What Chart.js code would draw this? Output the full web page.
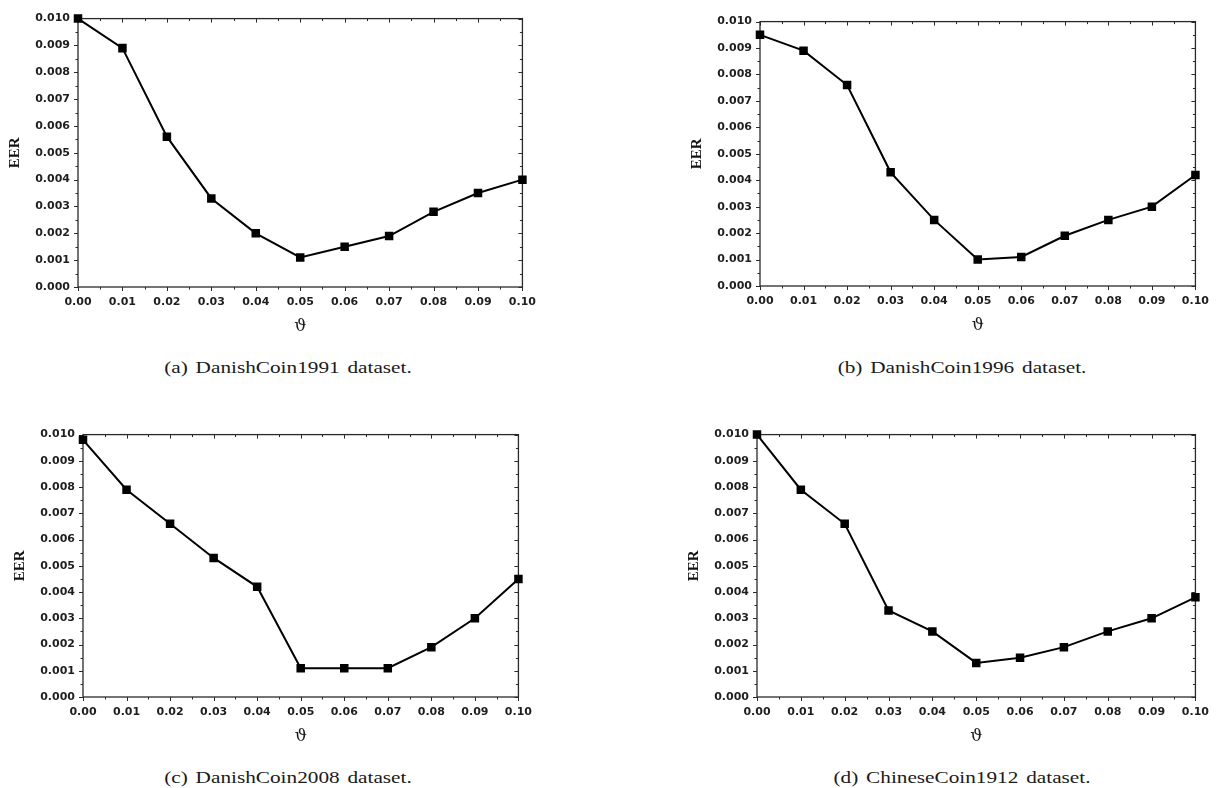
<!DOCTYPE html>
<html><head><meta charset="utf-8">
<script src="https://cdn.jsdelivr.net/npm/chart.js@4"></script>
<style>
html,body{margin:0;padding:0;background:#fff;}
body{width:1219px;height:788px;position:relative;overflow:hidden;}
canvas{position:absolute;}
.cap{position:absolute;font-family:'Liberation Serif','Times New Roman',serif;font-size:17px;color:#1a1a1a;white-space:nowrap;transform:translate(-50%,-50%) scaleX(1.25);word-spacing:2px;}
</style></head><body>
<script>
// ---- data ----
const thetaValues = [0.00,0.01,0.02,0.03,0.04,0.05,0.06,0.07,0.08,0.09,0.10];
const xTickLabels = ['0.00','0.01','0.02','0.03','0.04','0.05','0.06','0.07','0.08','0.09','0.10'];
const yTickLabels = ['0.000','0.001','0.002','0.003','0.004','0.005','0.006','0.007','0.008','0.009','0.010'];
const eerDanishCoin1991 = [0.0100,0.0089,0.0056,0.0033,0.0020,0.0011,0.0015,0.0019,0.0028,0.0035,0.0040];
const eerDanishCoin1996 = [0.0095,0.0089,0.0076,0.0043,0.0025,0.0010,0.0011,0.0019,0.0025,0.0030,0.0042];
const eerDanishCoin2008 = [0.0098,0.0079,0.0066,0.0053,0.0042,0.0011,0.0011,0.0011,0.0019,0.0030,0.0045];
const eerChineseCoin1912 = [0.0100,0.0079,0.0066,0.0033,0.0025,0.0013,0.0015,0.0019,0.0025,0.0030,0.0038];
const captions = ['(a) DanishCoin1991 dataset.','(b) DanishCoin1996 dataset.','(c) DanishCoin2008 dataset.','(d) ChineseCoin1912 dataset.'];
const yAxisTitle = 'EER';
const xAxisTitle = '\u03D1';

// ---- layout (plot-area boxes in page pixels) ----
const panels = [
  {series: eerDanishCoin1991,  L: 78,  R: 526,  T: 16,  B: 287, capX: 288, capY: 368},
  {series: eerDanishCoin1996,  L: 760, R: 1199, T: 19,  B: 286, capX: 962, capY: 368},
  {series: eerDanishCoin2008,  L: 83,  R: 522,  T: 432, B: 697, capX: 288, capY: 778},
  {series: eerChineseCoin1912, L: 757, R: 1199, T: 432, B: 697, capX: 962, capY: 778}
];

const Y_AXIS_W = 78, X_AXIS_H = 52, PAD_TOP = 12, PAD_RIGHT = 19;
const xMajor = thetaValues.slice();
const yMajor = yTickLabels.map(Number);
const mids = a => a.slice(1).map((v,i)=>(v+a[i])/2);
const xMinor = mids(xMajor), yMinor = mids(yMajor);

const frameTicks = {
  id: 'frameTicks',
  beforeDatasetsDraw(chart) {
    const {ctx, chartArea: {left, right, top, bottom}, scales: {x, y}} = chart;
    ctx.save();
    ctx.strokeStyle = '#2a2a2a';
    ctx.lineWidth = 1.3;
    ctx.strokeRect(left, top, right - left, bottom - top);
    ctx.lineWidth = 1;
    const seg = (x1,y1,x2,y2) => { ctx.beginPath(); ctx.moveTo(x1,y1); ctx.lineTo(x2,y2); ctx.stroke(); };
    const xt = (vals, len) => vals.forEach(v => { const p = Math.round(x.getPixelForValue(v)) + 0.5; seg(p, bottom, p, bottom + len); seg(p, top, p, top + len); });
    const yt = (vals, len) => vals.forEach(v => { const p = Math.round(y.getPixelForValue(v)) + 0.5; seg(left, p, left - len, p); seg(right, p, right - len, p); });
    xt(xMajor, 4); xt(xMinor, 2.5);
    yt(yMajor, 4); yt(yMinor, 2.5);
    ctx.restore();
  }
};

panels.forEach((p, idx) => {
  const cl = p.L - Y_AXIS_W, ct = p.T - PAD_TOP;
  const cw = (p.R - cl) + PAD_RIGHT, ch = (p.B - ct) + X_AXIS_H;
  const cv = document.createElement('canvas');
  cv.width = cw; cv.height = ch;
  cv.style.left = cl + 'px'; cv.style.top = ct + 'px';
  cv.style.width = cw + 'px'; cv.style.height = ch + 'px';
  document.body.appendChild(cv);

  const cap = document.createElement('div');
  cap.className = 'cap';
  cap.textContent = captions[idx];
  cap.style.left = p.capX + 'px'; cap.style.top = p.capY + 'px';
  document.body.appendChild(cap);

  new Chart(cv, {
    type: 'line',
    data: {
      datasets: [{
        data: thetaValues.map((t, i) => ({x: t, y: p.series[i]})),
        borderColor: '#000', backgroundColor: '#000',
        borderWidth: 2, tension: 0,
        pointStyle: 'rect', pointRadius: 4.6, pointHoverRadius: 4.6,
        clip: false
      }]
    },
    options: {
      responsive: false, animation: false, devicePixelRatio: 1,
      layout: {padding: {top: PAD_TOP, right: PAD_RIGHT, left: 0, bottom: 0}},
      plugins: {legend: {display: false}, tooltip: {enabled: false}},
      events: [],
      scales: {
        x: {
          type: 'linear', min: 0, max: 0.1,
          afterBuildTicks: s => { s.ticks = xMajor.map(v => ({value: v})); },
          afterFit: s => { s.height = X_AXIS_H; },
          grid: {display: false, drawTicks: false},
          border: {display: false},
          ticks: {
            autoSkip: false, maxRotation: 0, padding: 9,
            color: '#1e1e1e',
            font: {family: "'DejaVu Sans', sans-serif", weight: 'bold', size: 11},
            callback: (v, i) => xTickLabels[i]
          },
          title: {display: true, text: xAxisTitle, color: '#1e1e1e',
            font: {family: "'DejaVu Serif', 'Liberation Serif', serif", size: 17}, padding: {top: 0, bottom: 2}}
        },
        y: {
          type: 'linear', min: 0, max: 0.01,
          afterBuildTicks: s => { s.ticks = yMajor.map(v => ({value: v})); },
          afterFit: s => { s.width = Y_AXIS_W; },
          grid: {display: false, drawTicks: false},
          border: {display: false},
          ticks: {
            autoSkip: false, padding: 8,
            color: '#1e1e1e',
            font: {family: "'DejaVu Sans', sans-serif", weight: 'bold', size: 11},
            callback: (v, i) => yTickLabels[i]
          },
          title: {display: true, text: yAxisTitle, color: '#111',
            font: {family: "'Liberation Serif', serif", size: 15, weight: 'bold'}, padding: {top: 6, bottom: 0}}
        }
      }
    },
    plugins: [frameTicks]
  });
});
</script>
</body></html>
